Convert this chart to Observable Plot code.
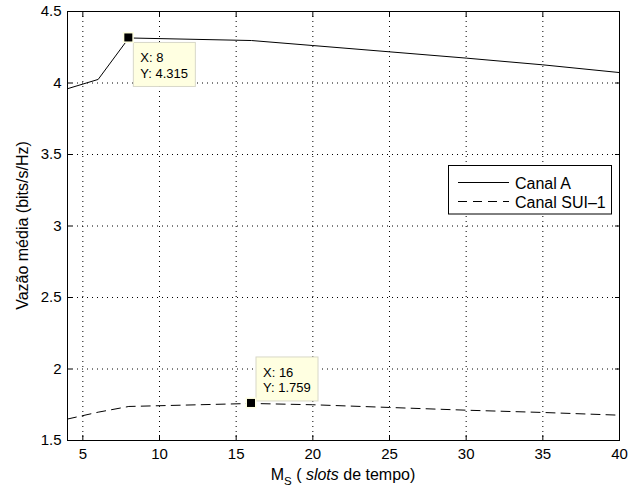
<!DOCTYPE html>
<html><head><meta charset="utf-8">
<script src="https://cdn.jsdelivr.net/npm/d3@7"></script>
<script src="https://cdn.jsdelivr.net/npm/@observablehq/plot@0.6"></script>
<style>
body{margin:0;background:#fff;}
#chart{position:relative;width:642px;height:489px;overflow:hidden;}
svg{font-family:"Liberation Sans",Arial,Helvetica,sans-serif;}
</style></head><body><div id="chart"></div>
<script>
// Data
const msValues   = [4, 6, 8, 16, 20, 25, 30, 35, 40];
const canalA     = [3.96, 4.025, 4.315, 4.297, 4.262, 4.218, 4.174, 4.127, 4.073];
const canalSUI   = [1.65, 1.698, 1.738, 1.759, 1.75, 1.731, 1.712, 1.696, 1.677];
const seriesNames = ["Canal A", "Canal SUI\u20131"];
const xTicks = [5, 10, 15, 20, 25, 30, 35, 40];
const yTicks = [1.5, 2, 2.5, 3, 3.5, 4, 4.5];
const tipX = [8, 16];
const tipY = [4.315, 1.759];
const yLabel = "Vazão média (bits/s/Hz)";

const rows = msValues.flatMap((m, i) => [
  {ms: m, v: canalA[i], s: seriesNames[0]},
  {ms: m, v: canalSUI[i], s: seriesNames[1]}
]);
const tips = tipX.map((x, i) => ({x, y: tipY[i], label: `X: ${x}\nY: ${tipY[i]}`, up: i === 1}));

const font = '"Liberation Sans",Arial,Helvetica,sans-serif';
const grid = {stroke: "#000", strokeOpacity: 1, strokeWidth: 1, strokeDasharray: "1,4"};
const blank = () => "";

const plot = Plot.plot({
  width: 642, height: 489,
  marginLeft: 67, marginRight: 23, marginTop: 11, marginBottom: 49,
  style: {fontFamily: font, fontSize: "15px", color: "#000", background: "#fff"},
  x: {domain: [4, 40]},
  y: {domain: [1.5, 4.5]},
  marks: [
    Plot.gridX(xTicks, grid),
    Plot.gridY(yTicks, grid),
    Plot.axisX(xTicks, {anchor: "bottom", tickSize: 0, tickPadding: 8, label: null, fontSize: 15, tickFormat: d => String(d)}),
    Plot.axisY(yTicks, {anchor: "left", tickSize: 0, tickPadding: 6, label: null, fontSize: 15, tickFormat: d => String(d)}),
    Plot.axisX(xTicks, {anchor: "bottom", tickSize: -5, tickFormat: blank, label: null}),
    Plot.axisX(xTicks, {anchor: "top", tickSize: -5, tickFormat: blank, label: null}),
    Plot.axisY(yTicks, {anchor: "left", tickSize: -5, tickFormat: blank, label: null}),
    Plot.axisY(yTicks, {anchor: "right", tickSize: -5, tickFormat: blank, label: null}),
    Plot.line(rows.filter(d => d.s === seriesNames[0]), {x: "ms", y: "v", stroke: "#000", strokeWidth: 1}),
    Plot.line(rows.filter(d => d.s === seriesNames[1]), {x: "ms", y: "v", stroke: "#000", strokeWidth: 1, strokeDasharray: "9,6"}),
    Plot.frame({stroke: "#000", strokeWidth: 1})
  ]
});

document.getElementById("chart").appendChild(plot);
const svg = d3.select(plot);
const sx = plot.scale("x"), sy = plot.scale("y");

// Data tips (MATLAB style)
tips.forEach(t => {
  const px = sx.apply(t.x), py = sy.apply(t.y);
  const g = svg.append("g");
  const bw = 62, bh = 44;
  const bx = px + 5, by = t.up ? py - 2 - bh : py + 5;
  g.append("rect").attr("x", bx).attr("y", by).attr("width", bw).attr("height", bh)
    .attr("fill", "#ffffe1").attr("stroke", "#d8d8c8").attr("stroke-width", 1);
  const tx = g.append("text").attr("font-size", 13).attr("font-family", font)
    .attr("text-anchor", "start").attr("fill", "#000");
  t.label.split("\n").forEach((ln, k) => {
    tx.append("tspan").attr("x", bx + 7).attr("y", by + 20 + k * 15.5).text(ln);
  });
  g.append("rect").attr("x", px - 5.5).attr("y", py - 5.5).attr("width", 11).attr("height", 11)
    .attr("fill", "#ffffe1");
  g.append("rect").attr("x", px - 4).attr("y", py - 4).attr("width", 8).attr("height", 8)
    .attr("fill", "#000");
});

// Legend
const lg = svg.append("g").attr("font-family", font).attr("font-size", 16).attr("text-anchor", "start");
lg.append("rect").attr("x", 448.5).attr("y", 165.5).attr("width", 163).attr("height", 48.5)
  .attr("fill", "#fff").attr("stroke", "#000");
seriesNames.forEach((name, i) => {
  const yy = 182.5 + i * 19;
  lg.append("line").attr("x1", 458).attr("x2", 509).attr("y1", yy).attr("y2", yy)
    .attr("stroke", "#000").attr("stroke-dasharray", i ? "9,6" : null);
  lg.append("text").attr("x", 515).attr("y", yy + 6).text(name);
});

// Axis labels
const xl = svg.append("text").attr("x", (67 + 619) / 2).attr("y", 480).attr("text-anchor", "middle")
  .attr("font-family", font).attr("font-size", 16);
xl.append("tspan").text("M");
xl.append("tspan").attr("dy", 5).attr("font-size", 11.5).text("S");
xl.append("tspan").attr("dy", -5).text(" ( ");
xl.append("tspan").attr("font-style", "italic").text("slots");
xl.append("tspan").text(" de tempo)");

svg.append("text").attr("transform", `translate(28,${(11 + 440) / 2}) rotate(-90)`)
  .attr("text-anchor", "middle").attr("font-family", font).attr("font-size", 16).text(yLabel);
</script></body></html>
